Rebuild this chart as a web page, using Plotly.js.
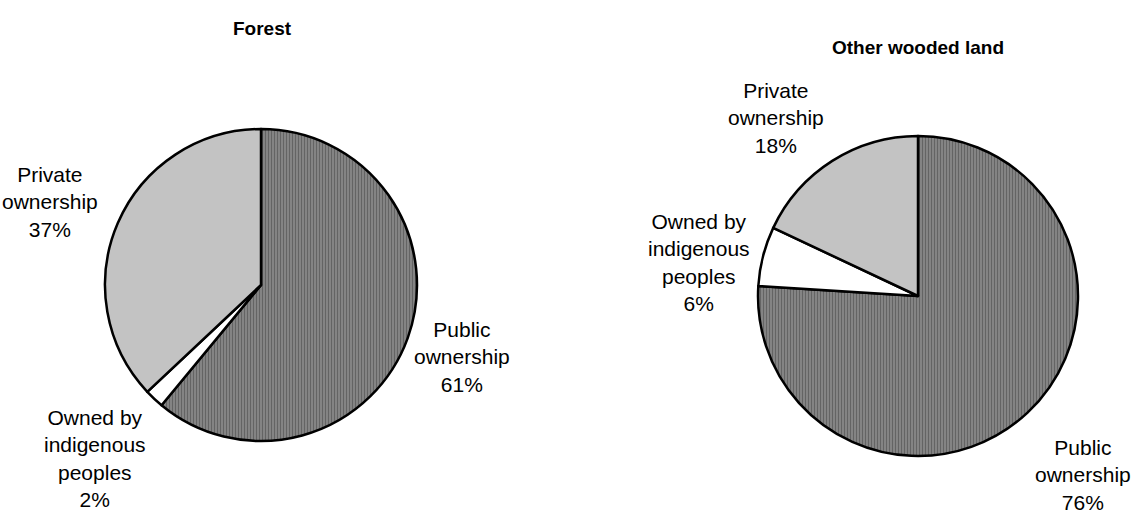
<!DOCTYPE html>
<html>
<head>
<meta charset="utf-8">
<script src="https://cdn.plot.ly/plotly-3.0.1.min.js"></script>
<style>html,body{margin:0;padding:0;background:#fff;}#chart{width:1134px;height:511px;}</style>
</head>
<body>
<div id="chart"></div>
<script>
// Data
const chartTitles = ["Forest", "Other wooded land"];
const categories = ["Public ownership", "Owned by indigenous peoples", "Private ownership"];
const labelLines = ["Public<br>ownership", "Owned by<br>indigenous<br>peoples", "Private<br>ownership"];
const forestValues = [61, 2, 37];
const otherWoodedValues = [76, 6, 18];

// Styles
const fills = ["#7a7a7a", "#ffffff", "#cdcdcd"];
const patterns = [
  {shape: "|", fgcolor: "#646464", bgcolor: "#8e8e8e", size: 3, solidity: 0.5},
  {shape: "", fgcolor: "#ffffff", bgcolor: "#ffffff", size: 3, solidity: 0.5},
  {shape: ".", fgcolor: "#a8a8a8", bgcolor: "#d8d8d8", size: 2, solidity: 0.5}
];

const W = 1134, H = 511;
const px = x => x / W;
const py = y => 1 - y / H;

function pieTrace(values, cx, cy, r) {
  return {
    type: "pie",
    values: values,
    labels: categories,
    sort: false,
    direction: "clockwise",
    rotation: 0,
    textinfo: "none",
    hoverinfo: "label+percent",
    showlegend: false,
    domain: {x: [px(cx - r), px(cx + r)], y: [py(cy + r), py(cy - r)]},
    marker: {
      colors: fills,
      line: {color: "#000000", width: 2.5},
      pattern: {
        shape: patterns.map(p => p.shape),
        fgcolor: patterns.map(p => p.fgcolor),
        bgcolor: patterns.map(p => p.bgcolor),
        size: patterns.map(p => p.size),
        solidity: patterns.map(p => p.solidity),
        fillmode: "replace"
      }
    }
  };
}

const traces = [
  pieTrace(forestValues, 261, 285, 156),
  pieTrace(otherWoodedValues, 918, 296, 160)
];

const labelFont = {family: "Liberation Sans, Arial, sans-serif", size: 21, color: "#000"};
const titleFont = {family: "Liberation Sans, Arial, sans-serif", size: 19, color: "#000", weight: "bold"};

// label placements (px): [x, y] for each category, per pie
const forestLabelPos = [[462, 357], [95, 458], [50, 201.5]];
const otherLabelPos = [[1083, 475], [699, 262], [776, 118.5]];

const annotations = [];
function addLabels(values, pos) {
  values.forEach((v, i) => {
    annotations.push({
      text: labelLines[i] + "<br>" + v + "%",
      x: px(pos[i][0]), y: py(pos[i][1]),
      xref: "paper", yref: "paper",
      xanchor: "center", yanchor: "middle",
      showarrow: false, align: "center",
      font: labelFont
    });
  });
}
addLabels(forestValues, forestLabelPos);
addLabels(otherWoodedValues, otherLabelPos);

annotations.push({text: chartTitles[0], x: px(262), y: py(28), xref: "paper", yref: "paper",
  xanchor: "center", yanchor: "middle", showarrow: false, font: titleFont});
annotations.push({text: chartTitles[1], x: px(918), y: py(47), xref: "paper", yref: "paper",
  xanchor: "center", yanchor: "middle", showarrow: false, font: titleFont});

const layout = {
  width: W, height: H,
  margin: {l: 0, r: 0, t: 0, b: 0},
  paper_bgcolor: "#ffffff",
  plot_bgcolor: "#ffffff",
  annotations: annotations
};

Plotly.newPlot("chart", traces, layout, {displayModeBar: false, staticPlot: true});
</script>
</body>
</html>
